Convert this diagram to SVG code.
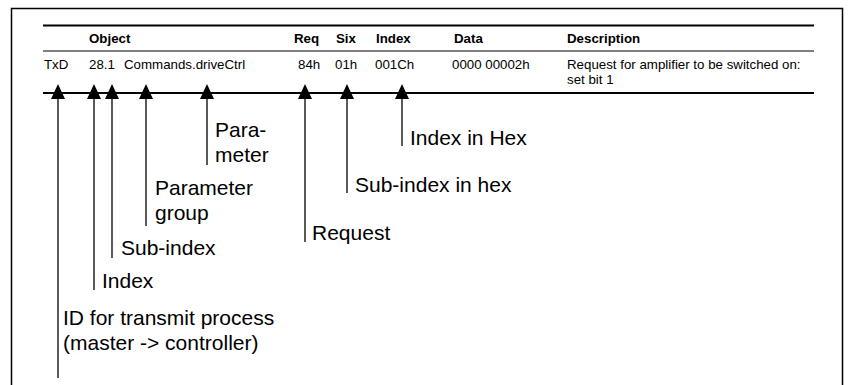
<svg xmlns="http://www.w3.org/2000/svg" width="848" height="385" viewBox="0 0 848 385">
<style>
.t{font-family:"Liberation Sans",Arial,sans-serif;font-size:13.3px;fill:#000}
.h{font-weight:bold}
.l{font-family:"Liberation Sans",Arial,sans-serif;font-size:21px;fill:#000}
.c{stroke:#000;stroke-width:1.3;fill:none}
</style>
<defs>
<polygon id="ah" points="0,0 -7,15 7,15" fill="#000"/>
</defs>
<rect width="848" height="385" fill="#fff"/>
<path d="M11.5,385 V8.5 H842.5 V385" fill="none" stroke="#000" stroke-width="1.5"/>
<g id="table">
<line x1="43" y1="25.5" x2="814" y2="25.5" stroke="#000" stroke-width="2"/>
<line x1="43" y1="51" x2="814" y2="51" stroke="#000" stroke-width="1"/>
<line x1="43" y1="93" x2="814" y2="93" stroke="#000" stroke-width="2"/>
<text class="t h" x="89" y="43">Object</text>
<text class="t h" x="294" y="43">Req</text>
<text class="t h" x="336" y="43">Six</text>
<text class="t h" x="376" y="43">Index</text>
<text class="t h" x="454" y="43">Data</text>
<text class="t h" x="567" y="43">Description</text>
<text class="t" x="44" y="69">TxD</text>
<text class="t" x="89" y="69">28.1</text>
<text class="t" x="124" y="69">Commands.driveCtrl</text>
<text class="t" x="298" y="69">84h</text>
<text class="t" x="335" y="69">01h</text>
<text class="t" x="375" y="69">001Ch</text>
<text class="t" x="452" y="69">0000 00002h</text>
<text class="t" x="567" y="69">Request for amplifier to be switched on:</text>
<text class="t" x="567" y="83.5">set bit 1</text>
</g>
<g id="connectors">
<path class="c" d="M58,378 V97"/>
<path class="c" d="M94,290 V97"/>
<path class="c" d="M112,258 V97"/>
<path class="c" d="M146,226 V97"/>
<path class="c" d="M207,165 V97"/>
<path class="c" d="M305,242 V97"/>
<path class="c" d="M347,193 V97"/>
<path class="c" d="M402,146 V97"/>
<use href="#ah" x="58" y="84"/>
<use href="#ah" x="94" y="84"/>
<use href="#ah" x="112" y="84"/>
<use href="#ah" x="146" y="84"/>
<use href="#ah" x="207" y="84"/>
<use href="#ah" x="305" y="84"/>
<use href="#ah" x="347" y="84"/>
<use href="#ah" x="402" y="84"/>
</g>
<g id="lbl-param"><text class="l" x="215" y="137">Para-</text><text class="l" x="215" y="162">meter</text></g>
<g id="lbl-group"><text class="l" x="155" y="195">Parameter</text><text class="l" x="155" y="220">group</text></g>
<g id="lbl-subindex"><text class="l" x="121" y="255">Sub-index</text></g>
<g id="lbl-index"><text class="l" x="102" y="288">Index</text></g>
<g id="lbl-id"><text class="l" x="63" y="325">ID for transmit process</text><text class="l" x="63" y="350">(master -&gt; controller)</text></g>
<g id="lbl-request"><text class="l" x="312" y="240">Request</text></g>
<g id="lbl-subhex"><text class="l" x="355" y="192">Sub-index in hex</text></g>
<g id="lbl-indexhex"><text class="l" x="410" y="145">Index in Hex</text></g>
</svg>
